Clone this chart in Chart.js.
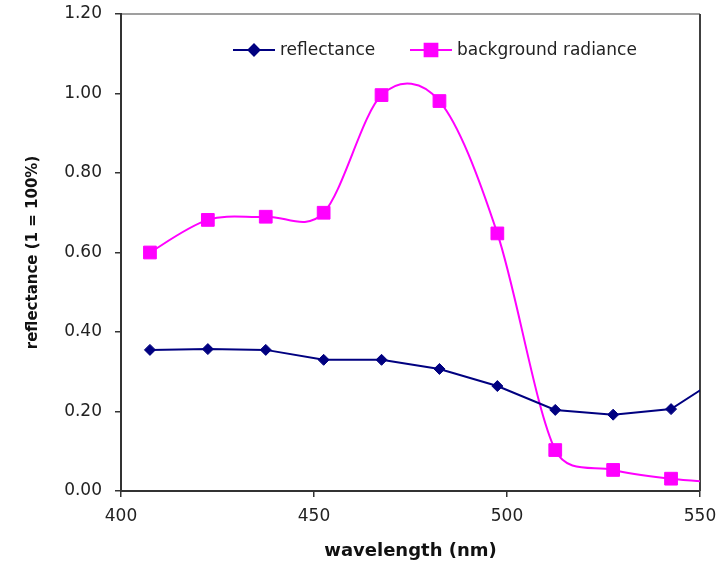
<!DOCTYPE html>
<html>
<head>
<meta charset="utf-8">
<script src="https://cdn.jsdelivr.net/npm/chart.js@4/dist/chart.umd.min.js"></script>
<style>
  html, body { margin: 0; padding: 0; background: #ffffff; }
  #wrap { position: relative; width: 720px; height: 564px; }
</style>
</head>
<body>
<div id="wrap"><canvas id="spectrumChart" width="720" height="564"></canvas></div>
<script>
  const wavelengths = [407.5, 422.5, 437.5, 452.5, 467.5, 482.5, 497.5, 512.5, 527.5, 542.5, 557.5];
  const reflectance = [0.355, 0.357, 0.355, 0.330, 0.330, 0.307, 0.264, 0.204, 0.192, 0.206, 0.300];
  const backgroundRadiance = [0.600, 0.682, 0.690, 0.700, 0.996, 0.981, 0.648, 0.103, 0.053, 0.031, 0.020];
  const xTicks = [400, 450, 500, 550];
  const yTicks = [0, 0.2, 0.4, 0.6, 0.8, 1.0, 1.2];

  const fontFamily = "'DejaVu Sans', Verdana, sans-serif";
  const textColor = "#222222";

  function toPoints(values) {
    return wavelengths.map((x, index) => ({ x, y: values[index] }));
  }

  // plot frame: grey top/right edges, axes draw their own left/bottom lines
  const framePlugin = {
    id: "frame",
    beforeDraw(chart) {
      const { ctx, chartArea } = chart;
      ctx.save();
      ctx.strokeStyle = "#7f7f7f";
      ctx.lineWidth = 1.5;
      ctx.beginPath();
      ctx.moveTo(chartArea.left, chartArea.top);
      ctx.lineTo(chartArea.right, chartArea.top);
      ctx.stroke();
      ctx.strokeStyle = "#404040";
      ctx.lineWidth = 2;
      ctx.beginPath();
      ctx.moveTo(chartArea.right, chartArea.top);
      ctx.lineTo(chartArea.right, chartArea.bottom);
      ctx.stroke();
      ctx.restore();
    }
  };

  // spreadsheet-style smoothing: arms of (next - prev) / 6,
  // each capped to a share of its own segment so short segments don't overshoot
  const smoothPlugin = {
    id: "sheetSmooth",
    beforeDatasetDraw(chart, args) {
      const meta = args.meta;
      if (!meta.dataset || !meta.dataset.options.tension) {
        return;
      }
      meta.dataset.updateControlPoints(chart.chartArea);
      const cap = 0.45;
      const pts = meta.data;
      pts.forEach((pt, i) => {
        const prev = pts[Math.max(i - 1, 0)];
        const next = pts[Math.min(i + 1, pts.length - 1)];
        const dx = (next.x - prev.x) / 6;
        const dy = (next.y - prev.y) / 6;
        const arm = Math.hypot(dx, dy) || 1;
        const dIn = Math.hypot(pt.x - prev.x, pt.y - prev.y);
        const dOut = Math.hypot(next.x - pt.x, next.y - pt.y);
        const kIn = Math.min(1, (cap * dIn) / arm);
        const kOut = Math.min(1, (cap * dOut) / arm);
        pt.cp1x = pt.x - dx * kIn;
        pt.cp1y = pt.y - dy * kIn;
        pt.cp2x = pt.x + dx * kOut;
        pt.cp2y = pt.y + dy * kOut;
      });
      meta.dataset._pointsUpdated = true;
      meta.dataset._path = undefined;
    }
  };

  // legend with line + marker, like the original
  const lineLegendPlugin = {
    id: "lineLegend",
    afterDraw(chart) {
      const { ctx } = chart;
      const entries = [
        { index: 0, x: 233 },
        { index: 1, x: 410 }
      ];
      const y = 50;
      ctx.save();
      entries.forEach((entry) => {
        const ds = chart.data.datasets[entry.index];
        ctx.strokeStyle = ds.borderColor;
        ctx.lineWidth = 2;
        ctx.beginPath();
        ctx.moveTo(entry.x, y);
        ctx.lineTo(entry.x + 42, y);
        ctx.stroke();
        ctx.fillStyle = ds.pointBackgroundColor;
        ctx.strokeStyle = ds.pointBorderColor;
        Chart.helpers.drawPoint(ctx, {
          pointStyle: ds.pointStyle,
          radius: ds.pointRadius,
          borderWidth: 1
        }, entry.x + 21, y);
        ctx.fillStyle = textColor;
        ctx.font = `17px ${fontFamily}`;
        ctx.textBaseline = "middle";
        ctx.textAlign = "left";
        ctx.fillText(ds.label, entry.x + 47, y + 1);
      });
      ctx.restore();
    }
  };

  document.addEventListener("DOMContentLoaded", () => {
    const context = document.getElementById("spectrumChart").getContext("2d");

    new Chart(context, {
      type: "line",
      data: {
        datasets: [
          {
            label: "reflectance",
            data: toPoints(reflectance),
            borderColor: "#000080",
            backgroundColor: "#000080",
            borderWidth: 2,
            tension: 0,
            pointStyle: "rectRot",
            pointRadius: 5.5,
            pointBackgroundColor: "#000080",
            pointBorderColor: "#000080",
            pointBorderWidth: 1
          },
          {
            label: "background radiance",
            data: toPoints(backgroundRadiance),
            borderColor: "#ff00ff",
            backgroundColor: "#ff00ff",
            borderWidth: 2,
            tension: 0.4,
            pointStyle: "rect",
            pointRadius: 9,
            pointBackgroundColor: "#ff00ff",
            pointBorderColor: "#ff00ff",
            pointBorderWidth: 1
          }
        ]
      },
      options: {
        responsive: false,
        animation: false,
        layout: { padding: { top: 0, right: 0, left: 20, bottom: 0 } },
        plugins: {
          legend: { display: false },
          tooltip: { enabled: false }
        },
        scales: {
          x: {
            type: "linear",
            min: 400,
            max: 550,
            afterBuildTicks(scale) {
              scale.ticks = xTicks.map((value) => ({ value }));
            },
            afterFit(scale) {
              scale.height = 73;
              scale.paddingRight = 20;
            },
            grid: {
              display: true,
              drawOnChartArea: false,
              drawTicks: true,
              tickLength: 6,
              color: "#333333",
              lineWidth: 1.5
            },
            border: { display: true, color: "#333333", width: 2 },
            ticks: {
              color: textColor,
              padding: 9,
              font: { family: fontFamily, size: 17 },
              maxRotation: 0
            },
            title: {
              display: true,
              text: "wavelength (nm)",
              color: "#111111",
              font: { family: fontFamily, size: 18, weight: "bold" },
              padding: { top: 0, bottom: 2 }
            }
          },
          y: {
            min: 0,
            max: 1.2,
            afterBuildTicks(scale) {
              scale.ticks = yTicks.map((value) => ({ value }));
            },
            afterFit(scale) {
              scale.width = 101;
              scale.paddingTop = 14;
            },
            grid: {
              display: true,
              drawOnChartArea: false,
              drawTicks: true,
              tickLength: 6,
              color: "#333333",
              lineWidth: 1.5
            },
            border: { display: true, color: "#333333", width: 2 },
            ticks: {
              color: textColor,
              padding: 13,
              font: { family: fontFamily, size: 17 },
              callback(value) {
                return value.toFixed(2);
              }
            },
            title: {
              display: true,
              text: "reflectance (1 = 100%)",
              color: "#111111",
              font: { family: fontFamily, size: 15, weight: "bold" },
              padding: { top: 4, bottom: 0 }
            }
          }
        }
      },
      plugins: [framePlugin, smoothPlugin, lineLegendPlugin]
    });
  });
</script>
</body>
</html>
